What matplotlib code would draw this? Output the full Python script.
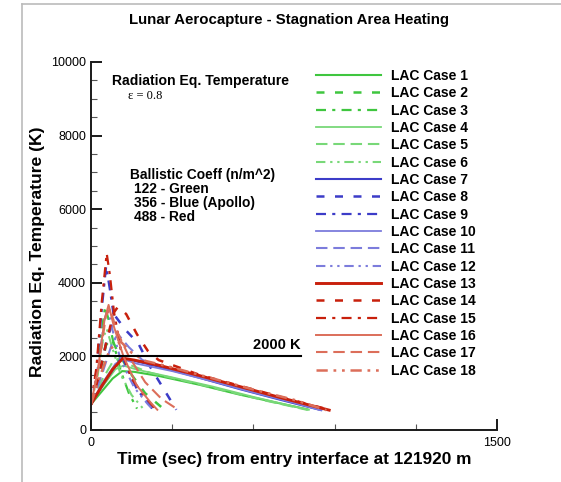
import matplotlib
matplotlib.use("Agg")
import matplotlib.pyplot as plt
from matplotlib.lines import Line2D
from matplotlib.ticker import MultipleLocator, FixedLocator

plt.rcParams['font.family'] = ['Liberation Sans', 'DejaVu Sans']

# ---- data (time s, temperature K) ----
case1_t = [0, 40, 80, 115, 160, 250, 400, 550, 700, 800]
case1_T = [700, 1050, 1400, 1600, 1580, 1470, 1230, 960, 720, 560]
case2_t = [0, 30, 55, 75, 100, 150, 200, 270]
case2_T = [700, 1400, 2300, 2500, 2100, 1500, 1000, 560]
case3_t = [0, 20, 40, 52, 65, 85, 110, 140, 170]
case3_T = [700, 1500, 2700, 3350, 3000, 2300, 1600, 1000, 580]
case4_t = [0, 40, 90, 120, 170, 300, 450, 600, 720, 805]
case4_T = [700, 1150, 1650, 1750, 1640, 1430, 1180, 900, 690, 550]
case5_t = [0, 40, 80, 105, 150, 220, 350, 500, 650, 800]
case5_T = [700, 1350, 1850, 1950, 1750, 1550, 1330, 1060, 790, 545]
case6_t = [0, 25, 45, 58, 80, 110, 150, 195]
case6_T = [700, 1500, 2500, 2750, 2200, 1500, 950, 560]

case7_t = [0, 50, 110, 160, 250, 400, 550, 700, 850]
case7_T = [700, 1300, 1950, 1880, 1720, 1420, 1110, 820, 540]
case8_t = [0, 30, 60, 89, 130, 175, 220, 270, 315]
case8_T = [700, 1500, 2500, 3100, 2700, 2350, 1700, 1100, 550]
case9_t = [0, 20, 40, 56, 70, 90, 120, 170, 230]
case9_T = [700, 1600, 3300, 4450, 3800, 2800, 1900, 1100, 550]
case10_t = [0, 40, 90, 120, 170, 300, 450, 600, 750, 845]
case10_T = [700, 1250, 1800, 1920, 1800, 1600, 1320, 1020, 740, 545]
case11_t = [0, 40, 80, 100, 140, 190, 300, 450, 600, 750, 855]
case11_T = [700, 1500, 2400, 2600, 2250, 1900, 1650, 1350, 1050, 760, 540]
case12_t = [0, 25, 50, 62, 80, 110, 160, 210, 230]
case12_T = [700, 1700, 3000, 3300, 2700, 1900, 1150, 700, 550]

case13_t = [0, 40, 80, 118, 160, 250, 400, 550, 700, 880]
case13_T = [700, 1200, 1650, 1950, 1900, 1760, 1480, 1180, 880, 540]
case14_t = [0, 30, 60, 85, 100, 130, 170, 210, 250, 400, 550, 700, 885]
case14_T = [700, 1500, 2500, 3200, 3350, 3150, 2600, 2150, 1900, 1500, 1200, 900, 540]
case15_t = [0, 20, 40, 58, 70, 85, 110, 150, 200, 240]
case15_T = [700, 1700, 3500, 4800, 4200, 3200, 2200, 1400, 900, 550]
case16_t = [0, 25, 50, 65, 85, 120, 170, 220, 245]
case16_T = [700, 1600, 3000, 3400, 2800, 2000, 1200, 750, 550]
case17_t = [0, 30, 55, 70, 95, 140, 200, 260, 322]
case17_T = [700, 1800, 3100, 3300, 2700, 2000, 1300, 850, 550]
case18_t = [0, 30, 70, 110, 150, 200, 300, 450, 600, 750, 870]
case18_T = [700, 1400, 2200, 2400, 2100, 1880, 1700, 1400, 1100, 820, 540]

labels = [f"LAC Case {i}" for i in range(1, 19)]
times = [case1_t, case2_t, case3_t, case4_t, case5_t, case6_t,
         case7_t, case8_t, case9_t, case10_t, case11_t, case12_t,
         case13_t, case14_t, case15_t, case16_t, case17_t, case18_t]
temps = [case1_T, case2_T, case3_T, case4_T, case5_T, case6_T,
         case7_T, case8_T, case9_T, case10_T, case11_T, case12_T,
         case13_T, case14_T, case15_T, case16_T, case17_T, case18_T]

limit_T = 2000
limit_t = [0, 775]

# ---- styles ----
colors = ['#3fc63f'] * 3 + ['#78d878'] * 3 + \
         ['#3c3cc8'] * 3 + ['#7c7cdc'] * 3 + \
         ['#c8200c'] * 3 + ['#dc6e5a'] * 3
dash = (0, (3.2, 4.2))
dashdot = (0, (4.5, 2.8, 1.4, 2.8))
solid = '-'
longdash = (0, (5.5, 2.8))
dashdotdot = (0, (4.5, 2.3, 1.1, 2.3, 1.1, 2.3))
styles = [solid, dash, dashdot, solid, longdash, dashdotdot] * 3
widths = [1.5, 1.8, 1.6, 1.3, 1.5, 1.5,
          1.5, 1.8, 1.6, 1.3, 1.5, 1.5,
          2.1, 1.8, 1.6, 1.4, 1.5, 1.8]

W, H = 561, 482
fig = plt.figure(figsize=(W / 100, H / 100), dpi=100)
ax = fig.add_axes([91 / W, 1 - 430 / H, (497 - 91) / W, (430 - 62) / H])

handles = []
for t, T, c, ls, lw, lab in zip(times, temps, colors, styles, widths, labels):
    h, = ax.plot(t, T, color=c, linestyle=ls, linewidth=lw, label=lab)
    handles.append(h)

ax.plot(limit_t, [limit_T, limit_T], color='black', linewidth=1.5)
ax.text(limit_t[1], limit_T + 130, "2000 K", ha='right', va='bottom',
        fontsize=10.5, fontweight='bold')

ax.set_xlim(0, 1500)
ax.set_ylim(0, 10000)
ax.xaxis.set_major_locator(FixedLocator([0, 1500]))
ax.xaxis.set_minor_locator(FixedLocator([300, 600, 900, 1200]))
ax.yaxis.set_major_locator(MultipleLocator(2000))
ax.yaxis.set_minor_locator(MultipleLocator(500))
for s in ['top', 'right']:
    ax.spines[s].set_visible(False)
for s in ['left', 'bottom']:
    ax.spines[s].set_linewidth(1.4)
    ax.spines[s].set_color('#1a1a1a')
ax.tick_params(which='major', direction='in', length=8, width=1.4, labelsize=9, color='#1a1a1a')
ax.tick_params(which='minor', direction='in', length=4, width=0.8, color='#555555')
ax.tick_params(axis='x', pad=5)

ax.set_xlabel("Time (sec) from entry interface at 121920 m", fontsize=12.4,
              fontweight='bold', labelpad=2)
ax.set_ylabel("Radiation Eq. Temperature (K)", fontsize=12.6,
              fontweight='bold')
ax.yaxis.set_label_coords(-0.113, 0.485)

fig.text(289 / W, 1 - 20 / H, "Lunar Aerocapture - Stagnation Area Heating",
         ha='center', va='center', fontsize=10.8, fontweight='bold')

fig.text(112 / W, 1 - 81 / H, "Radiation Eq. Temperature", ha='left', va='center',
         fontsize=10.1, fontweight='bold')
fig.text(128 / W, 1 - 96 / H, "ε = 0.8", ha='left', va='center',
         fontsize=9, family=['Liberation Serif', 'DejaVu Serif'])
fig.text(130 / W, 1 - 175 / H, "Ballistic Coeff (n/m^2)", ha='left', va='center',
         fontsize=9.9, fontweight='bold')
fig.text(134 / W, 1 - 189 / H, "122 - Green", ha='left', va='center',
         fontsize=9.9, fontweight='bold')
fig.text(134 / W, 1 - 203 / H, "356 - Blue (Apollo)", ha='left', va='center',
         fontsize=9.9, fontweight='bold')
fig.text(134 / W, 1 - 217 / H, "488 - Red", ha='left', va='center',
         fontsize=9.9, fontweight='bold')

leg = fig.legend(handles=handles, loc='upper left',
                 bbox_to_anchor=(316 / W, 1 - 69 / H), frameon=False,
                 fontsize=10, handlelength=4.7, handletextpad=0.72,
                 labelspacing=0.24, borderpad=0, borderaxespad=0)
for txt in leg.get_texts():
    txt.set_fontweight('bold')

# outer frame of the original screenshot
fig.add_artist(Line2D([22 / W, 22 / W], [0, 1 - 4 / H], color='#bbbbbb', lw=1.2))
fig.add_artist(Line2D([22 / W, 1], [1 - 4 / H, 1 - 4 / H], color='#bbbbbb', lw=1.2))

fig.savefig("out.png", dpi=100)
